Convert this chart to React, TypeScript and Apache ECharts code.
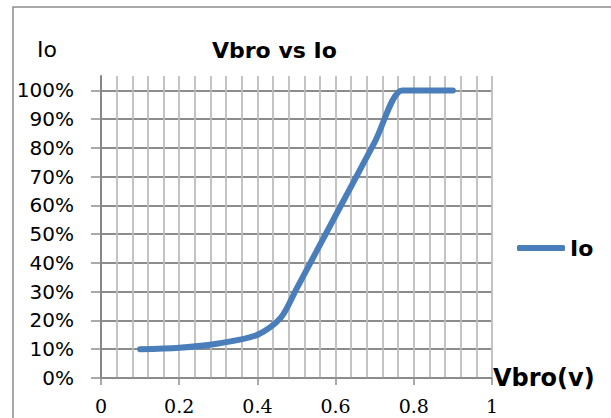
import React, { useEffect, useRef } from 'react';
import * as echarts from 'echarts';

const xValues = [0.1, 0.2, 0.3, 0.4, 0.46, 0.5, 0.6, 0.7, 0.77, 0.8, 0.9];
const ioValues = [0.1, 0.105, 0.12, 0.15, 0.21, 0.31, 0.565, 0.82, 1.0, 1.0, 1.0];
const yTicks = [0, 0.1, 0.2, 0.3, 0.4, 0.5, 0.6, 0.7, 0.8, 0.9, 1.0];
const seriesName = 'Io';
const chartTitle = 'Vbro vs Io';
const xName = 'Vbro(v)';
const yName = 'Io';

export default function App() {
  const ref = useRef<HTMLDivElement>(null);
  useEffect(() => {
    document.body.style.margin = '0';
    const chart = echarts.init(ref.current!, null, { renderer: 'svg' });
    chart.setOption({
      animation: false,
      backgroundColor: '#ffffff',
      title: {
        text: chartTitle,
        left: 207,
        top: 34,
        textStyle: { fontFamily: 'DejaVu Sans', fontWeight: 'bold', fontSize: 22, color: '#000' },
      },
      legend: {
        data: [{ name: seriesName, icon: 'roundRect' }],
        left: 512,
        top: 232,
        itemWidth: 48,
        itemHeight: 6,
        itemGap: 5,
        textStyle: { fontFamily: 'DejaVu Sans', fontWeight: 'bold', fontSize: 22, color: '#000' },
      },
      grid: { left: 101, top: 76, right: 119, bottom: 40, containLabel: false },
      xAxis: {
        type: 'value',
        min: 0,
        max: 1,
        interval: 0.2,
        name: xName,
        nameLocation: 'end',
        nameGap: 1,
        nameTextStyle: {
          fontFamily: 'DejaVu Sans',
          fontWeight: 'bold',
          fontSize: 24,
          color: '#000',
          padding: [0, 0, 6, 0],
        },
        axisLine: { show: true, lineStyle: { color: '#8c8c8c', width: 1.5 } },
        axisTick: { show: true, length: 7, lineStyle: { color: '#8c8c8c', width: 1.5 } },
        axisLabel: {
          fontFamily: 'DejaVu Serif',
          fontSize: 19,
          lineHeight: 19,
          color: '#000',
          margin: 18,
          formatter: (v: number) => String(v),
        },
        splitLine: { show: true, lineStyle: { color: '#bdbdbd', width: 1.8 } },
        minorTick: { show: false, splitNumber: 5 },
        minorSplitLine: { show: true, lineStyle: { color: '#bdbdbd', width: 1.8 } },
      },
      yAxis: {
        type: 'value',
        min: 0,
        max: 1.05,
        interval: 0.1,
        name: yName,
        nameLocation: 'end',
        nameGap: 16,
        nameTextStyle: {
          fontFamily: 'DejaVu Sans',
          fontSize: 22,
          color: '#000',
          align: 'right',
          padding: [0, 44, 0, 0],
        },
        axisLine: { show: true, lineStyle: { color: '#868686', width: 2 } },
        axisTick: { show: true, length: 10, customValues: yTicks, lineStyle: { color: '#8c8c8c', width: 1.5 } },
        axisLabel: {
          customValues: yTicks,
          fontFamily: 'DejaVu Sans',
          fontSize: 20,
          color: '#000',
          margin: 27,
          padding: [6, 0, 0, 0],
          formatter: (v: number) => Math.round(v * 100) + '%',
        },
        splitLine: { show: true, lineStyle: { color: '#8c8c8c', width: 1.8 } },
      },
      graphic: [
        {
          type: 'rect',
          x: 13,
          y: 7,
          shape: { x: 0, y: 0, width: 640, height: 460 },
          style: { fill: 'none', stroke: '#8c8c8c', lineWidth: 1.5 },
          silent: true,
        },
      ],
      series: [
        {
          name: seriesName,
          type: 'line',
          data: xValues.map((x, i) => [x, ioValues[i]]),
          smooth: 0.3,
          symbol: 'none',
          z: 3,
          lineStyle: { color: '#4a7ebb', width: 6, cap: 'round', join: 'round' },
          itemStyle: { color: '#4a7ebb' },
        },
      ],
    });
    return () => chart.dispose();
  }, []);
  return <div ref={ref} style={{ width: 611, height: 418 }} />;
}
